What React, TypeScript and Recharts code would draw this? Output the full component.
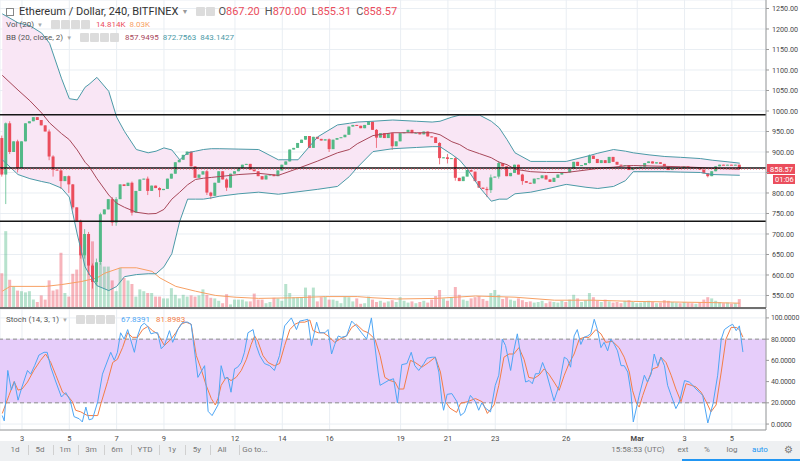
import React from "react";
import {
  ComposedChart,
  Bar,
  Line,
  Area,
  XAxis,
  YAxis,
  CartesianGrid,
  ReferenceLine,
  ReferenceArea,
  Cell,
} from "recharts";

// ETH/USD, 240 minute bars, Bitfinex. Time is hours since 1 Feb 00:00.
const START_HOUR = 28;
const STEP_HOURS = 4;
const FIRST_OPEN = 934;

const closes: number[] = [
  845, 970, 900, 926, 861, 926, 970, 975, 985, 978,
  965, 950, 889, 857, 855, 829, 841, 821, 765, 732,
  648, 700, 623, 583, 631, 748, 760, 785, 728, 785,
  821, 817, 825, 752, 805, 833, 835, 805, 818, 812,
  807, 810, 835, 847, 875, 881, 893, 901, 865, 837,
  845, 853, 801, 793, 825, 853, 833, 813, 847, 853,
  861, 869, 871, 857, 853, 841, 833, 843, 845, 841,
  855, 869, 877, 906, 910, 922, 930, 939, 910, 937,
  932, 928, 931, 907, 930, 934, 936, 942, 962, 966,
  964, 958, 966, 974, 954, 935, 946, 934, 946, 914,
  926, 946, 948, 954, 946, 947, 943, 950, 938, 936,
  922, 885, 887, 883, 885, 837, 829, 840, 856, 852,
  829, 813, 810, 807, 838, 840, 873, 865, 841, 849,
  869, 845, 829, 825, 823, 835, 836, 843, 833, 827,
  837, 845, 851, 850, 859, 876, 866, 868, 873, 891,
  883, 873, 880, 873, 888, 876, 869, 867, 868, 856,
  861, 862, 864, 873, 877, 872, 875, 871, 865, 856,
  859, 861, 860, 865, 863, 862, 863, 857, 848, 841,
  853, 865, 869, 868, 869, 868, 869, 858.57,
];

// [bar index, high, low] where the wick reaches past the body
const wicks: [number, number, number][] = [
  [0, 940, 840], [1, 972, 773], [2, 975, 895], [4, 930, 850],
  [12, 955, 880], [13, 892, 840], [15, 858, 810], [17, 843, 800],
  [18, 822, 760], [20, 735, 640], [21, 712, 640], [22, 705, 600],
  [23, 628, 567], [24, 640, 575], [25, 752, 625], [28, 790, 720],
  [29, 790, 720], [33, 828, 745], [37, 840, 795], [40, 814, 790],
  [52, 856, 795], [53, 803, 785], [57, 836, 805], [83, 933, 900],
  [95, 956, 910], [99, 948, 905], [111, 924, 870], [113, 895, 872],
  [115, 888, 830], [123, 815, 790], [124, 845, 800], [126, 878, 835],
  [132, 847, 820], [149, 894, 872], [179, 848, 838],
];

// volume in thousands of ETH
const volumes: number[] = [
  58, 128, 47, 36, 29, 28, 26, 28, 14, 10,
  21, 14, 46, 29, 31, 92, 25, 19, 57, 64,
  117, 106, 89, 111, 75, 75, 69, 69, 46, 28,
  67, 50, 46, 40, 19, 31, 28, 25, 25, 19,
  19, 16, 16, 33, 22, 16, 22, 19, 21, 19,
  21, 31, 22, 17, 16, 12, 8, 23, 6, 14,
  14, 14, 11, 11, 24, 14, 14, 8, 10, 17,
  16, 12, 40, 25, 18, 18, 18, 34, 21, 34,
  11, 18, 19, 14, 14, 12, 8, 19, 18, 11,
  16, 7, 8, 19, 14, 10, 12, 9, 11, 13,
  10, 18, 12, 9, 11, 8, 10, 12, 9, 14,
  20, 30, 16, 12, 18, 35, 22, 14, 12, 16,
  18, 20, 15, 12, 25, 30, 22, 15, 18, 14,
  12, 16, 13, 10, 11, 9, 10, 12, 8, 11,
  10, 9, 12, 10, 14, 22, 16, 10, 13, 25,
  18, 12, 10, 14, 11, 9, 10, 8, 12, 13,
  10, 8, 9, 11, 12, 10, 8, 9, 13, 12,
  10, 9, 8, 10, 9, 8, 7, 10, 14, 18,
  16, 12, 10, 8, 9, 7, 8, 14.814,
];

const volMa: [number, number][] = [
  [0, 28], [2, 36], [11, 36], [15, 39], [20, 44], [24, 50], [26, 58],
  [30, 67], [34, 67], [38, 61], [40, 50], [44, 36], [49, 28], [54, 21],
  [59, 18], [65, 16], [74, 17], [82, 19], [90, 19], [94, 17], [100, 15],
  [110, 16], [120, 20], [130, 18], [140, 13], [150, 13], [160, 11],
  [170, 10], [180, 9], [187, 8.03],
];

// Bollinger (20, close, 2) read at these bars
const bbIndex = [
  0, 4, 7, 10, 12, 15, 17, 19, 21, 22, 24, 27, 29, 31, 34, 37, 39, 41, 43, 45,
  47, 49, 51, 53, 55, 60, 65, 70, 75, 80, 85, 88, 90, 94, 99, 105, 109, 111,
  114, 116, 118, 121, 124, 126, 128, 130, 134, 138, 143, 148, 151, 155, 158,
  160, 164, 168, 172, 177, 180, 184, 187,
];
const bbUpper = [
  1237, 1215, 1208, 1190, 1165, 1080, 1030, 1027, 1058, 1065, 1082, 1048, 985,
  950, 906, 898, 902, 910, 905, 881, 898, 902, 906, 908, 908, 907, 906, 881,
  881, 937, 966, 970, 973, 975, 978, 975, 973, 975, 985, 990, 990, 990, 975,
  959, 930, 898, 877, 877, 877, 889, 897, 906, 902, 898, 893, 889, 887, 884,
  880, 876, 872.76,
];
const bbMid = [
  1087, 1051, 1025, 995, 971, 945, 930, 905, 875, 865, 835, 795, 775, 765,
  753, 749, 750, 760, 785, 802, 820, 833, 836, 838, 840, 845, 848, 843, 860,
  878, 898, 906, 920, 940, 947, 947, 947, 942, 925, 918, 906, 896, 886, 875,
  869, 858, 852, 850, 850, 856, 860, 863, 866, 867, 866, 865, 864, 862, 860,
  859, 857.95,
];
const bbLower = [
  881, 845, 835, 828, 824, 812, 790, 700, 620, 603, 574, 562, 572, 596, 601,
  603, 603, 620, 652, 731, 785, 785, 785, 788, 792, 798, 802, 797, 803, 809,
  816, 840, 862, 901, 908, 911, 913, 913, 894, 880, 857, 814, 780, 785, 785,
  798, 802, 810, 821, 814, 811, 816, 830, 852, 852, 852, 851, 850, 845, 844,
  843.14,
];

// Stochastic (14, 3, 1): [bar position, value]
const stochK: [number, number][] = [
  [0, 8], [0.5, 3], [1.4, 50.5], [2.3, 32], [3.1, 40], [4, 22.5], [5, 35],
  [6.4, 50.5], [7.2, 47], [8.2, 55], [9.3, 65], [10.6, 67.6], [11.4, 67.6],
  [12.3, 53.6], [13.6, 39.6], [15, 25.5], [16.1, 29.6], [17.2, 22.5],
  [18.2, 7], [19.5, 5], [20.3, 2], [21.2, 16], [22, 4], [22.9, 5], [24.2, 21],
  [25.4, 47], [27.5, 67.6], [28.4, 60], [29.2, 67.6], [30, 86], [30.9, 80],
  [31.8, 89], [33.5, 67.6], [34.3, 83], [35.2, 92.5], [36, 95], [36.9, 92],
  [37.7, 85], [38.6, 86], [39.4, 86], [40.3, 71], [41.1, 74], [42.4, 88],
  [43.2, 77], [44.5, 89], [45.8, 96], [47, 96], [47.9, 94], [49.6, 44],
  [51.3, 55], [52.2, 12], [53.2, 8], [54.7, 18], [55.5, 55], [56.4, 42.7],
  [57.2, 44], [58, 30], [58.9, 52], [59.7, 53.6], [60.6, 58], [61.4, 67.6],
  [62.3, 86], [63.6, 89], [64.4, 74], [65.3, 64.5], [66.5, 57], [67.8, 55],
  [69, 50.5], [70.3, 64.5], [71.6, 92.5], [73.3, 100], [74.6, 89], [75.4, 97],
  [76.7, 98], [77.5, 98.7], [78.4, 74], [79.7, 96], [80.5, 86], [81.8, 86],
  [82.6, 89], [83.5, 66], [84.3, 75], [85.2, 83], [86, 81.7], [87.3, 83],
  [88.6, 97], [89.8, 92.5], [91.1, 86], [92.4, 80], [93.6, 100], [95.3, 49],
  [95.8, 36.5], [97.9, 41], [99.2, 42.7], [100.2, 20], [101.3, 56],
  [102.6, 57], [103.7, 67.6], [104.6, 55], [105.6, 50.5], [106.9, 57],
  [107.7, 62], [109, 63], [109.8, 63], [110.7, 49], [111.5, 21], [111.9, 13],
  [112.8, 28], [114, 28.7], [115.3, 21], [116.2, 8], [117.2, 11],
  [118.7, 27], [120, 21], [120.8, 13], [121.6, 20], [122.5, 15],
  [123.8, 11.5], [125, 36.5], [125.9, 46], [126.8, 80], [127.6, 74],
  [128.9, 50.5], [129.7, 69], [130.6, 85], [131.4, 66], [132.7, 39.6],
  [133.6, 41], [134.4, 38], [135.2, 47.4], [136.1, 47.4], [137, 58],
  [137.8, 50.5], [138.6, 39.6], [139.9, 22], [141.2, 36.5], [142.5, 63],
  [143.3, 61], [144.1, 53.6], [145, 83], [145.8, 89], [146.7, 75],
  [147.5, 81.7], [148.4, 83], [149.2, 85], [150.1, 98.7], [150.9, 89],
  [151.8, 72], [152.6, 77], [153.5, 69], [154.3, 80], [155.2, 75], [156, 69],
  [156.9, 55], [157.7, 55], [158.6, 49], [159.4, 30], [160, 2], [161.5, 27],
  [162.8, 46], [163.6, 39.6], [164.5, 47], [165.3, 66], [166.2, 55], [167, 63],
  [167.9, 55], [168.7, 36.5], [169.6, 27], [170.8, 14.6], [171.7, 21],
  [173, 41], [174.2, 39.6], [175.1, 36.5], [175.9, 33], [176.8, 30],
  [177.6, 27], [178.9, 1], [180.2, 19], [181.4, 46], [182.3, 80], [183.1, 89],
  [184.4, 92.5], [185.2, 94], [186.1, 88], [186.9, 92.5], [187.8, 67.84],
];
const stochD: [number, number][] = [
  [0, 10], [1.7, 27], [3, 40], [4, 32], [5, 33], [6.4, 39.6], [8, 50.5],
  [9.7, 60], [11, 66], [12.3, 58], [13.6, 46], [15.3, 30], [16.5, 27],
  [17.8, 21], [18.6, 13], [19.9, 11.5], [21.6, 8], [24.2, 8], [25, 19],
  [26.7, 40], [28, 58], [29.2, 61], [30.5, 72], [31.8, 86], [33, 81.7],
  [34.3, 81.7], [35.6, 89], [36.9, 92], [38.1, 88], [39.4, 85], [41.1, 74],
  [42.8, 80], [44, 86], [45.3, 94], [46.6, 96], [47.9, 94], [49.2, 64.5],
  [50.4, 52], [51.7, 36.5], [53, 24], [54, 18], [54.7, 24], [55.5, 36.5],
  [56.8, 44], [58, 41], [59.3, 44], [60.6, 50.5], [61.9, 61], [63.1, 75],
  [64, 83], [64.8, 78], [66.1, 64.5], [67.4, 58], [69, 55], [70.3, 57],
  [71.6, 74], [72.9, 89], [74.2, 94], [75.4, 96], [76.7, 96], [78, 98],
  [78.8, 88], [80.1, 86], [81.4, 86], [82.6, 83], [84.3, 77], [85.6, 80],
  [87.3, 83], [88.6, 91], [89.8, 94], [91.5, 88], [92.8, 86], [94.5, 80],
  [95.8, 64.5], [97, 44], [98.3, 41], [99.6, 39.6], [100.5, 33], [101.8, 33],
  [103.5, 60], [104.7, 58], [106.4, 53.6], [108.1, 58], [109.8, 63],
  [111.1, 49], [112.4, 21], [113.5, 15], [115.2, 11], [116.2, 19.6],
  [117.9, 21], [120, 24], [121.7, 21], [123, 10], [124.7, 18], [125.9, 36.5],
  [127.2, 63], [128.5, 66], [129.7, 66], [131, 72], [132.3, 61], [133.5, 44],
  [134.8, 43], [136.1, 46], [137.4, 52], [138.6, 47], [139.9, 39.6],
  [141.2, 31.8], [142.5, 46], [143.7, 57], [145, 66], [146.3, 80],
  [147.5, 81.7], [148.8, 81.7], [150.5, 89], [151.8, 85], [153, 77],
  [154.7, 78], [156.4, 72], [157.7, 63], [159, 49], [159.8, 31.8],
  [160.8, 19.6], [161.5, 16], [162.4, 27], [163.6, 39.6], [164.9, 52],
  [166.2, 53.6], [167, 63], [168.3, 58], [169.6, 46], [170.8, 33],
  [172.1, 21], [173.4, 38], [174.7, 36.5], [175.9, 35], [177.2, 30],
  [178.5, 21], [179.7, 11.5], [181, 18], [182.3, 49], [183.5, 80],
  [184.8, 91], [186.1, 91], [186.9, 89], [187.8, 81.9],
];

const dayTicks = [48, 96, 144, 192, 264, 312, 360, 432, 480, 528, 600, 672, 720, 768];
const dayLabels = ["3", "5", "7", "9", "12", "14", "16", "19", "21", "23", "26", "Mar", "3", "5"];
const priceTicks = [550, 600, 650, 700, 750, 800, 850, 900, 950, 1000, 1050, 1100, 1150, 1200, 1250];
const stochTicks = [0, 20, 40, 60, 80, 100];
const levels = [991, 861, 731];
const LAST_PRICE = 858.57;

const X_DOMAIN: [number, number] = [25.7, 802.6];
const PRICE_DOMAIN: [number, number] = [519.5, 1270.7];
const VOL_DOMAIN: [number, number] = [0, 513];
const STOCH_DOMAIN: [number, number] = [-5.6, 108.4];

const UP = "#53b987";
const DOWN = "#eb4d5c";
const BB_EDGE = "#4b9aa7";
const BB_MID = "#a8485a";
const K_COLOR = "#4ea6f5";
const D_COLOR = "#f47d45";
const AXIS_TEXT = "#4a4a4a";
const GRID = "#e9eef3";
const FONT = "Roboto, sans-serif";

const barTime = (i: number) => START_HOUR + STEP_HOURS * i;

type Row = {
  t: number;
  open: number;
  close: number;
  high: number;
  low: number;
  vol: number;
};

const wickMap = new Map(wicks.map(([i, h, l]) => [i, [h, l]]));

const rows: Row[] = closes.map((close, i) => {
  const open = i === 0 ? FIRST_OPEN : closes[i - 1];
  const w = wickMap.get(i);
  return {
    t: barTime(i),
    open,
    close,
    high: Math.max(open, close, w ? w[0] : -Infinity),
    low: Math.min(open, close, w ? w[1] : Infinity),
    vol: volumes[i],
  };
});

const bbRows = bbIndex.map((idx, k) => ({
  t: barTime(idx),
  bbU: bbUpper[k],
  bbM: bbMid[k],
  bbL: bbLower[k],
  band: [bbLower[k], bbUpper[k]],
}));

const volMaRows = volMa.map(([idx, v]) => ({ t: barTime(idx), volMa: v }));
const kRows = stochK.map(([i, v]) => ({ t: barTime(i), k: v }));
const dRows = stochD.map(([i, v]) => ({ t: barTime(i), d: v }));

function Candle(props: any) {
  const { x, y, width, height, payload } = props;
  if (x == null || y == null || !payload) return <g />;
  const { open, close, high, low } = payload as Row;
  const color = close >= open ? UP : DOWN;
  const span = high - low;
  const k = span > 0 ? height / span : 0;
  const yOpen = y + (high - open) * k;
  const yClose = y + (high - close) * k;
  const top = Math.min(yOpen, yClose);
  const bodyH = Math.max(1, Math.abs(yOpen - yClose));
  const cx = x + width / 2;
  return (
    <g>
      <line x1={cx} x2={cx} y1={y} y2={y + height} stroke={color} strokeOpacity={0.75} strokeWidth={1} />
      <rect x={x} y={top} width={width} height={bodyH} fill={color} />
    </g>
  );
}

function PriceTick(props: any) {
  const { x, y, payload } = props;
  if (payload.value === 850) return <g />;
  return (
    <text x={x + 1} y={y} dy="0.35em" fontSize={7.2} fill={AXIS_TEXT} fontFamily={FONT}>
      {payload.value.toFixed(2)}
    </text>
  );
}

function StochTick(props: any) {
  const { x, y, payload } = props;
  return (
    <text x={x} y={y} dy="0.35em" fontSize={7} letterSpacing={-0.15} fill={AXIS_TEXT} fontFamily={FONT}>
      {payload.value.toFixed(4)}
    </text>
  );
}

function DayTick(props: any) {
  const { x, y, payload } = props;
  const label = dayLabels[dayTicks.indexOf(payload.value)] ?? "";
  return (
    <text
      x={x}
      y={y}
      dy="0.35em"
      textAnchor="middle"
      fontSize={7.5}
      fontWeight={label === "Mar" ? 700 : 400}
      fill={AXIS_TEXT}
      fontFamily={FONT}
    >
      {label}
    </text>
  );
}

function LastPriceLabel(props: any) {
  const vb = props.viewBox;
  if (!vb) return null;
  const x = vb.x + vb.width;
  const y = vb.y;
  return (
    <g fontFamily={FONT}>
      <rect x={x + 1} y={y - 5} width={28} height={10} fill={DOWN} />
      <text x={x + 4} y={y} dy="0.35em" fontSize={7.5} fill="#fff">
        858.57
      </text>
      <rect x={x + 7} y={y + 6} width={22} height={9} fill={DOWN} />
      <text x={x + 9} y={y + 10.5} dy="0.35em" fontSize={7.5} fill="#fff">
        01:06
      </text>
    </g>
  );
}

function Icons({ n, after = 6 }: { n: number; after?: number }) {
  return (
    <span style={{ display: "inline-flex", gap: 1, marginLeft: 8, marginRight: after }}>
      {Array.from({ length: n }).map((_, i) => (
        <span
          key={i}
          style={{
            display: "inline-block",
            width: 9,
            height: 9,
            background: "#dcdcdc",
            borderRadius: 1,
          }}
        />
      ))}
    </span>
  );
}

const legendRow: React.CSSProperties = {
  position: "absolute",
  left: 6,
  display: "flex",
  alignItems: "center",
  fontSize: 8,
  color: "#555",
  whiteSpace: "nowrap",
};

const toolLeft = ["1d", "5d", "1m", "3m", "6m", "YTD", "1y", "5y", "All", "Go to..."];
const toolLeftX = [15, 40, 65, 91, 117, 145, 172, 197, 222, 255];
const toolRight = ["15:58:53 (UTC)", "ext", "%", "log", "auto"];
const toolRightX = [638, 683, 707, 732, 760];

export default function App() {
  return (
    <div
      style={{
        position: "absolute",
        left: 0,
        top: 0,
        width: 800,
        height: 461,
        background: "#fff",
        fontFamily: FONT,
        overflow: "hidden",
      }}
    >
      {/* grid, band fill, volume */}
      <div style={{ position: "absolute", left: 0, top: 0 }}>
        <ComposedChart width={800} height={308} data={rows} margin={{ top: 0, right: 34, bottom: 0, left: 0 }}>
          <XAxis dataKey="t" type="number" domain={X_DOMAIN} ticks={dayTicks} interval={0} allowDataOverflow hide />
          <YAxis yAxisId="price" domain={PRICE_DOMAIN} ticks={priceTicks} interval={0} allowDataOverflow hide />
          <YAxis yAxisId="vol" domain={VOL_DOMAIN} allowDataOverflow hide />
          <CartesianGrid yAxisId="price" stroke={GRID} strokeWidth={1} />
          <Area
            yAxisId="price"
            data={bbRows}
            dataKey="band"
            stroke="none"
            fill="#f9e6f5"
            fillOpacity={1}
            dot={false}
            activeDot={false}
            isAnimationActive={false}
          />
          <Bar yAxisId="vol" dataKey="vol" barSize={3} isAnimationActive={false}>
            {rows.map((r, i) => (
              <Cell key={i} fill={r.close >= r.open ? "rgba(83,185,135,0.42)" : "rgba(235,77,92,0.42)"} />
            ))}
          </Bar>
          <Line
            yAxisId="vol"
            data={volMaRows}
            dataKey="volMa"
            stroke="#f7a064"
            strokeWidth={1}
            dot={false}
            activeDot={false}
            isAnimationActive={false}
          />
        </ComposedChart>
      </div>

      {/* price */}
      <div style={{ position: "absolute", left: 0, top: 0 }}>
        <ComposedChart width={800} height={308} data={rows} margin={{ top: 0, right: 0, bottom: 0, left: 0 }}>
          <XAxis dataKey="t" type="number" domain={X_DOMAIN} ticks={dayTicks} interval={0} allowDataOverflow hide />
          <YAxis
            orientation="right"
            width={34}
            domain={PRICE_DOMAIN}
            ticks={priceTicks}
            interval={0}
            allowDataOverflow
            tick={<PriceTick />}
            tickSize={3}
            tickLine={{ stroke: "#9a9a9a" }}
            axisLine={{ stroke: "#9a9a9a" }}
          />
          <Line data={bbRows} dataKey="bbU" stroke={BB_EDGE} strokeWidth={1} dot={false} activeDot={false} isAnimationActive={false} />
          <Line data={bbRows} dataKey="bbL" stroke={BB_EDGE} strokeWidth={1} dot={false} activeDot={false} isAnimationActive={false} />
          <Line data={bbRows} dataKey="bbM" stroke={BB_MID} strokeWidth={1} dot={false} activeDot={false} isAnimationActive={false} />
          <Bar
            dataKey={(r: Row) => [r.low, r.high]}
            barSize={3}
            shape={(p: any) => <Candle {...p} />}
            isAnimationActive={false}
          />
          {levels.map((lv) => (
            <ReferenceLine key={lv} y={lv} stroke="#151515" strokeWidth={1.6} />
          ))}
          <ReferenceLine
            y={LAST_PRICE}
            stroke={DOWN}
            strokeDasharray="1 2"
            strokeWidth={1}
            label={(p: any) => <LastPriceLabel {...p} />}
          />
        </ComposedChart>
      </div>

      {/* pane separator */}
      <div style={{ position: "absolute", left: 0, top: 307, width: 766, height: 2, background: "#6f6f6f" }} />

      {/* stochastic */}
      <div style={{ position: "absolute", left: 0, top: 309 }}>
        <ComposedChart width={800} height={139} margin={{ top: 0, right: 0, bottom: 0, left: 0 }}>
          <XAxis
            dataKey="t"
            type="number"
            domain={X_DOMAIN}
            ticks={dayTicks}
            interval={0}
            allowDataOverflow
            height={18}
            tick={<DayTick />}
            tickLine={false}
            axisLine={{ stroke: "#9a9a9a" }}
          />
          <YAxis
            orientation="right"
            width={34}
            domain={STOCH_DOMAIN}
            ticks={stochTicks}
            interval={0}
            allowDataOverflow
            tick={<StochTick />}
            tickSize={3}
            tickLine={{ stroke: "#9a9a9a" }}
            axisLine={{ stroke: "#9a9a9a" }}
          />
          <CartesianGrid stroke={GRID} />
          <ReferenceArea y1={20} y2={80} fill="#e6cdfa" fillOpacity={1} stroke="none" />
          <ReferenceLine y={80} stroke="#8d8d8d" strokeDasharray="4 3" />
          <ReferenceLine y={20} stroke="#8d8d8d" strokeDasharray="4 3" />
          <Line data={dRows} dataKey="d" stroke={D_COLOR} strokeWidth={1} dot={false} activeDot={false} isAnimationActive={false} />
          <Line data={kRows} dataKey="k" stroke={K_COLOR} strokeWidth={1} dot={false} activeDot={false} isAnimationActive={false} />
        </ComposedChart>
      </div>

      {/* legends */}
      <div style={{ ...legendRow, top: 5, fontSize: 11, color: "#333" }}>
        <span
          style={{
            display: "inline-block",
            width: 6,
            height: 6,
            border: "1px solid #888",
            marginRight: 5,
          }}
        />
        <span>Ethereum / Dollar, 240, BITFINEX</span>
        <span style={{ color: "#999", fontSize: 7, marginLeft: 3 }}>▼</span>
        <Icons n={2} after={3} />
        <span style={{ color: "#555" }}>O</span>
        <span style={{ color: DOWN }}>867.20</span>
        <span style={{ color: "#555", marginLeft: 5 }}>H</span>
        <span style={{ color: DOWN }}>870.00</span>
        <span style={{ color: "#555", marginLeft: 5 }}>L</span>
        <span style={{ color: DOWN }}>855.31</span>
        <span style={{ color: "#555", marginLeft: 5 }}>C</span>
        <span style={{ color: DOWN }}>858.57</span>
      </div>
      <div style={{ ...legendRow, top: 20 }}>
        <span>Vol (20)</span>
        <span style={{ color: "#aaa", fontSize: 6, marginLeft: 3 }}>▼</span>
        <Icons n={4} />
        <span style={{ color: DOWN }}>14.814K</span>
        <span style={{ color: "#f7a064", marginLeft: 4 }}>8.03K</span>
      </div>
      <div style={{ ...legendRow, top: 33 }}>
        <span>BB (20, close, 2)</span>
        <span style={{ color: "#aaa", fontSize: 6, marginLeft: 3 }}>▼</span>
        <Icons n={4} />
        <span style={{ color: BB_MID }}>857.9495</span>
        <span style={{ color: BB_EDGE, marginLeft: 4 }}>872.7563</span>
        <span style={{ color: BB_EDGE, marginLeft: 4 }}>843.1427</span>
      </div>
      <div style={{ ...legendRow, top: 315 }}>
        <span>Stoch (14, 3, 1)</span>
        <span style={{ color: "#aaa", fontSize: 6, marginLeft: 3 }}>▼</span>
        <Icons n={4} />
        <span style={{ color: K_COLOR }}>67.8391</span>
        <span style={{ color: D_COLOR, marginLeft: 6 }}>81.8983</span>
      </div>

      {/* bottom toolbar */}
      <div
        style={{
          position: "absolute",
          left: 0,
          top: 441,
          width: 800,
          height: 20,
          background: "#eef0f2",
          fontSize: 8,
          color: "#777",
        }}
      >
        {toolLeft.map((s, i) => (
          <span
            key={s}
            style={{ position: "absolute", left: toolLeftX[i], top: 4, transform: "translateX(-50%)", whiteSpace: "nowrap" }}
          >
            {s}
          </span>
        ))}
        {toolLeftX.slice(0, -1).map((x, i) => (
          <span
            key={"sep" + i}
            style={{
              position: "absolute",
              left: (x + toolLeftX[i + 1]) / 2,
              top: 4,
              width: 1,
              height: 10,
              background: "#d0d0d0",
            }}
          />
        ))}
        {toolRight.map((s, i) => (
          <span
            key={s}
            style={{
              position: "absolute",
              left: toolRightX[i],
              top: 4,
              transform: "translateX(-50%)",
              whiteSpace: "nowrap",
              color: s === "auto" ? "#2196f3" : "#777",
            }}
          >
            {s}
          </span>
        ))}
        <span style={{ position: "absolute", left: 784, top: 3, fontSize: 10, color: "#777" }}>⚙</span>
        <div style={{ position: "absolute", left: 682, top: 18, width: 118, height: 2, background: "#2196f3" }} />
      </div>
    </div>
  );
}
